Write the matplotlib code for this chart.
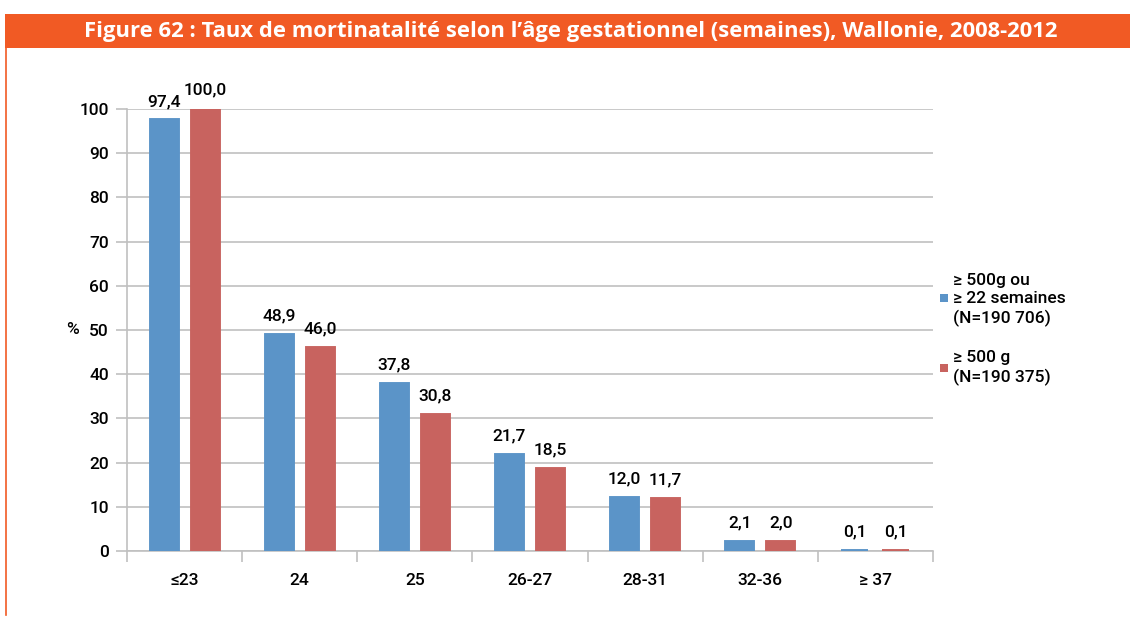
import matplotlib.pyplot as plt
from matplotlib.patches import Rectangle
from matplotlib.lines import Line2D
import numpy as np

plt.rcParams['font.family'] = ['Roboto', 'DejaVu Sans']

categories = ["≤23", "24", "25", "26-27", "28-31", "32-36", "≥ 37"]
serie_22sem = [97.4, 48.9, 37.8, 21.7, 12.0, 2.1, 0.1]
serie_500g = [100.0, 46.0, 30.8, 18.5, 11.7, 2.0, 0.1]
labels_serie = ["≥ 500g ou\n≥ 22 semaines\n(N=190 706)", "≥ 500 g\n(N=190 375)"]
yticks = [0, 10, 20, 30, 40, 50, 60, 70, 80, 90, 100]

blue = "#5B94C8"
red = "#C8635F"
orange = "#F15A24"
grid_col = "#C0C0C0"
fs = 12.5
fw = "medium"

fig = plt.figure(figsize=(11.3, 6.21), dpi=100)

# bandeau titre
fig.patches.append(Rectangle((5 / 1130, 1 - 48 / 621), 1, 34 / 621, transform=fig.transFigure,
                             facecolor=orange, edgecolor="none"))
fig.add_artist(Line2D([5.5 / 1130, 5.5 / 1130], [1 - 48 / 621, 1 - 615 / 621],
                      transform=fig.transFigure, color=orange, lw=1.2))
fig.text(0.505, 1 - 31.5 / 621,
         "Figure 62 : Taux de mortinatalité selon l’âge gestationnel (semaines), Wallonie, 2008-2012",
         color="white", fontsize=15.8, fontweight="bold", ha="center", va="center",
         family=["Open Sans", "DejaVu Sans"])

ax = fig.add_axes([127 / 1130, 70 / 621, 806 / 1130, 442 / 621])
x = np.arange(len(categories))
w = 0.235
off = 0.178
b1 = ax.bar(x - off, serie_22sem, w, color=blue, edgecolor=blue, lw=2.8, zorder=3)
b2 = ax.bar(x + off, serie_500g, w, color=red, edgecolor=red, lw=2.8, zorder=3)

for bars, vals in ((b1, serie_22sem), (b2, serie_500g)):
    for r, v in zip(bars, vals):
        ax.text(r.get_x() + r.get_width() / 2, v + 2.6, f"{v:.1f}".replace(".", ","),
                ha="center", va="bottom", fontsize=fs, fontweight=fw, clip_on=False)

ax.set_xlim(-0.5, len(categories) - 0.5)
ax.set_ylim(0, 100)
ax.set_yticks(yticks)
ax.set_yticklabels([str(t) for t in yticks], fontsize=fs, fontweight=fw)
ax.yaxis.grid(True, color=grid_col, lw=1.2, zorder=0)
ax.set_xticks(np.arange(len(categories) + 1) - 0.5)
ax.set_xticklabels([])
ax.set_xticks(x, minor=True)
ax.set_xticklabels(categories, minor=True, fontsize=fs, fontweight=fw)
ax.tick_params(axis="x", which="major", length=8, color=grid_col, width=1.2, direction="out")
ax.tick_params(axis="x", which="minor", length=0, pad=16)
ax.tick_params(axis="y", length=8, color=grid_col, width=1.2, pad=5)

for s in ("top", "right"):
    ax.spines[s].set_visible(False)
for s in ("left", "bottom"):
    ax.spines[s].set_color(grid_col)
    ax.spines[s].set_linewidth(1.2)

ax.text(-0.067, 0.5, "%", transform=ax.transAxes, fontsize=fs, fontweight=fw,
        ha="center", va="center")

# légende
for y_sq, y_txt, col, lab in ((298, 300, blue, labels_serie[0]), (368, 368, red, labels_serie[1])):
    fig.patches.append(Rectangle((940 / 1130, 1 - (y_sq + 4) / 621), 8 / 1130, 8 / 621,
                                 transform=fig.transFigure, facecolor=col, edgecolor="none"))
    fig.text(953 / 1130, 1 - y_txt / 621, lab, fontsize=fs, fontweight=fw, va="center",
             ha="left", linespacing=1.3)

fig.savefig("out.png", dpi=100)
